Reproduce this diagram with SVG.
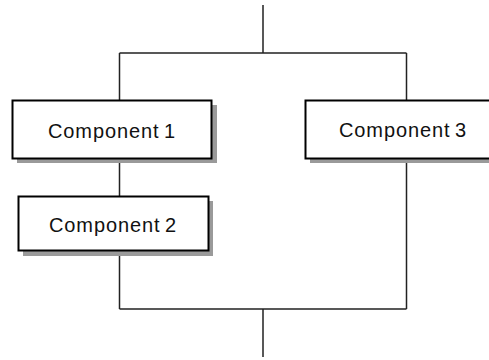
<svg xmlns="http://www.w3.org/2000/svg" width="489" height="360" viewBox="0 0 489 360">
<style>
.box{fill:#fff;stroke:#000;stroke-width:2}
.sh{fill:#9a9a9a}
.lbl{font-family:"Liberation Sans",Arial,sans-serif;font-size:20px;fill:#111;text-anchor:middle;letter-spacing:0.9px;word-spacing:-2px}
.con{fill:none;stroke:#222;stroke-width:1.5}
</style>
<rect width="489" height="360" fill="#fff"/>
<g id="connectors">
<path class="con" d="M263,5V53M119.5,53H406.5M119.5,53V100M119.5,158V196M119.5,251V309M406.5,53V100M406.5,158V309M119.5,309H406.5M263,309V357"/>
</g>
<g id="component1">
<rect class="sh" x="17" y="105" width="200" height="58"/>
<rect class="box" x="12.5" y="100.5" width="199" height="58"/>
<text class="lbl" x="112" y="138">Component 1</text>
</g>
<g id="component2">
<rect class="sh" x="23" y="201" width="190" height="55"/>
<rect class="box" x="18.5" y="196.5" width="190" height="54"/>
<text class="lbl" x="113" y="232">Component 2</text>
</g>
<g id="component3">
<rect class="sh" x="310" y="105" width="200" height="58"/>
<rect class="box" x="305.5" y="100.5" width="199" height="58"/>
<text class="lbl" x="403" y="137">Component 3</text>
</g>
</svg>
